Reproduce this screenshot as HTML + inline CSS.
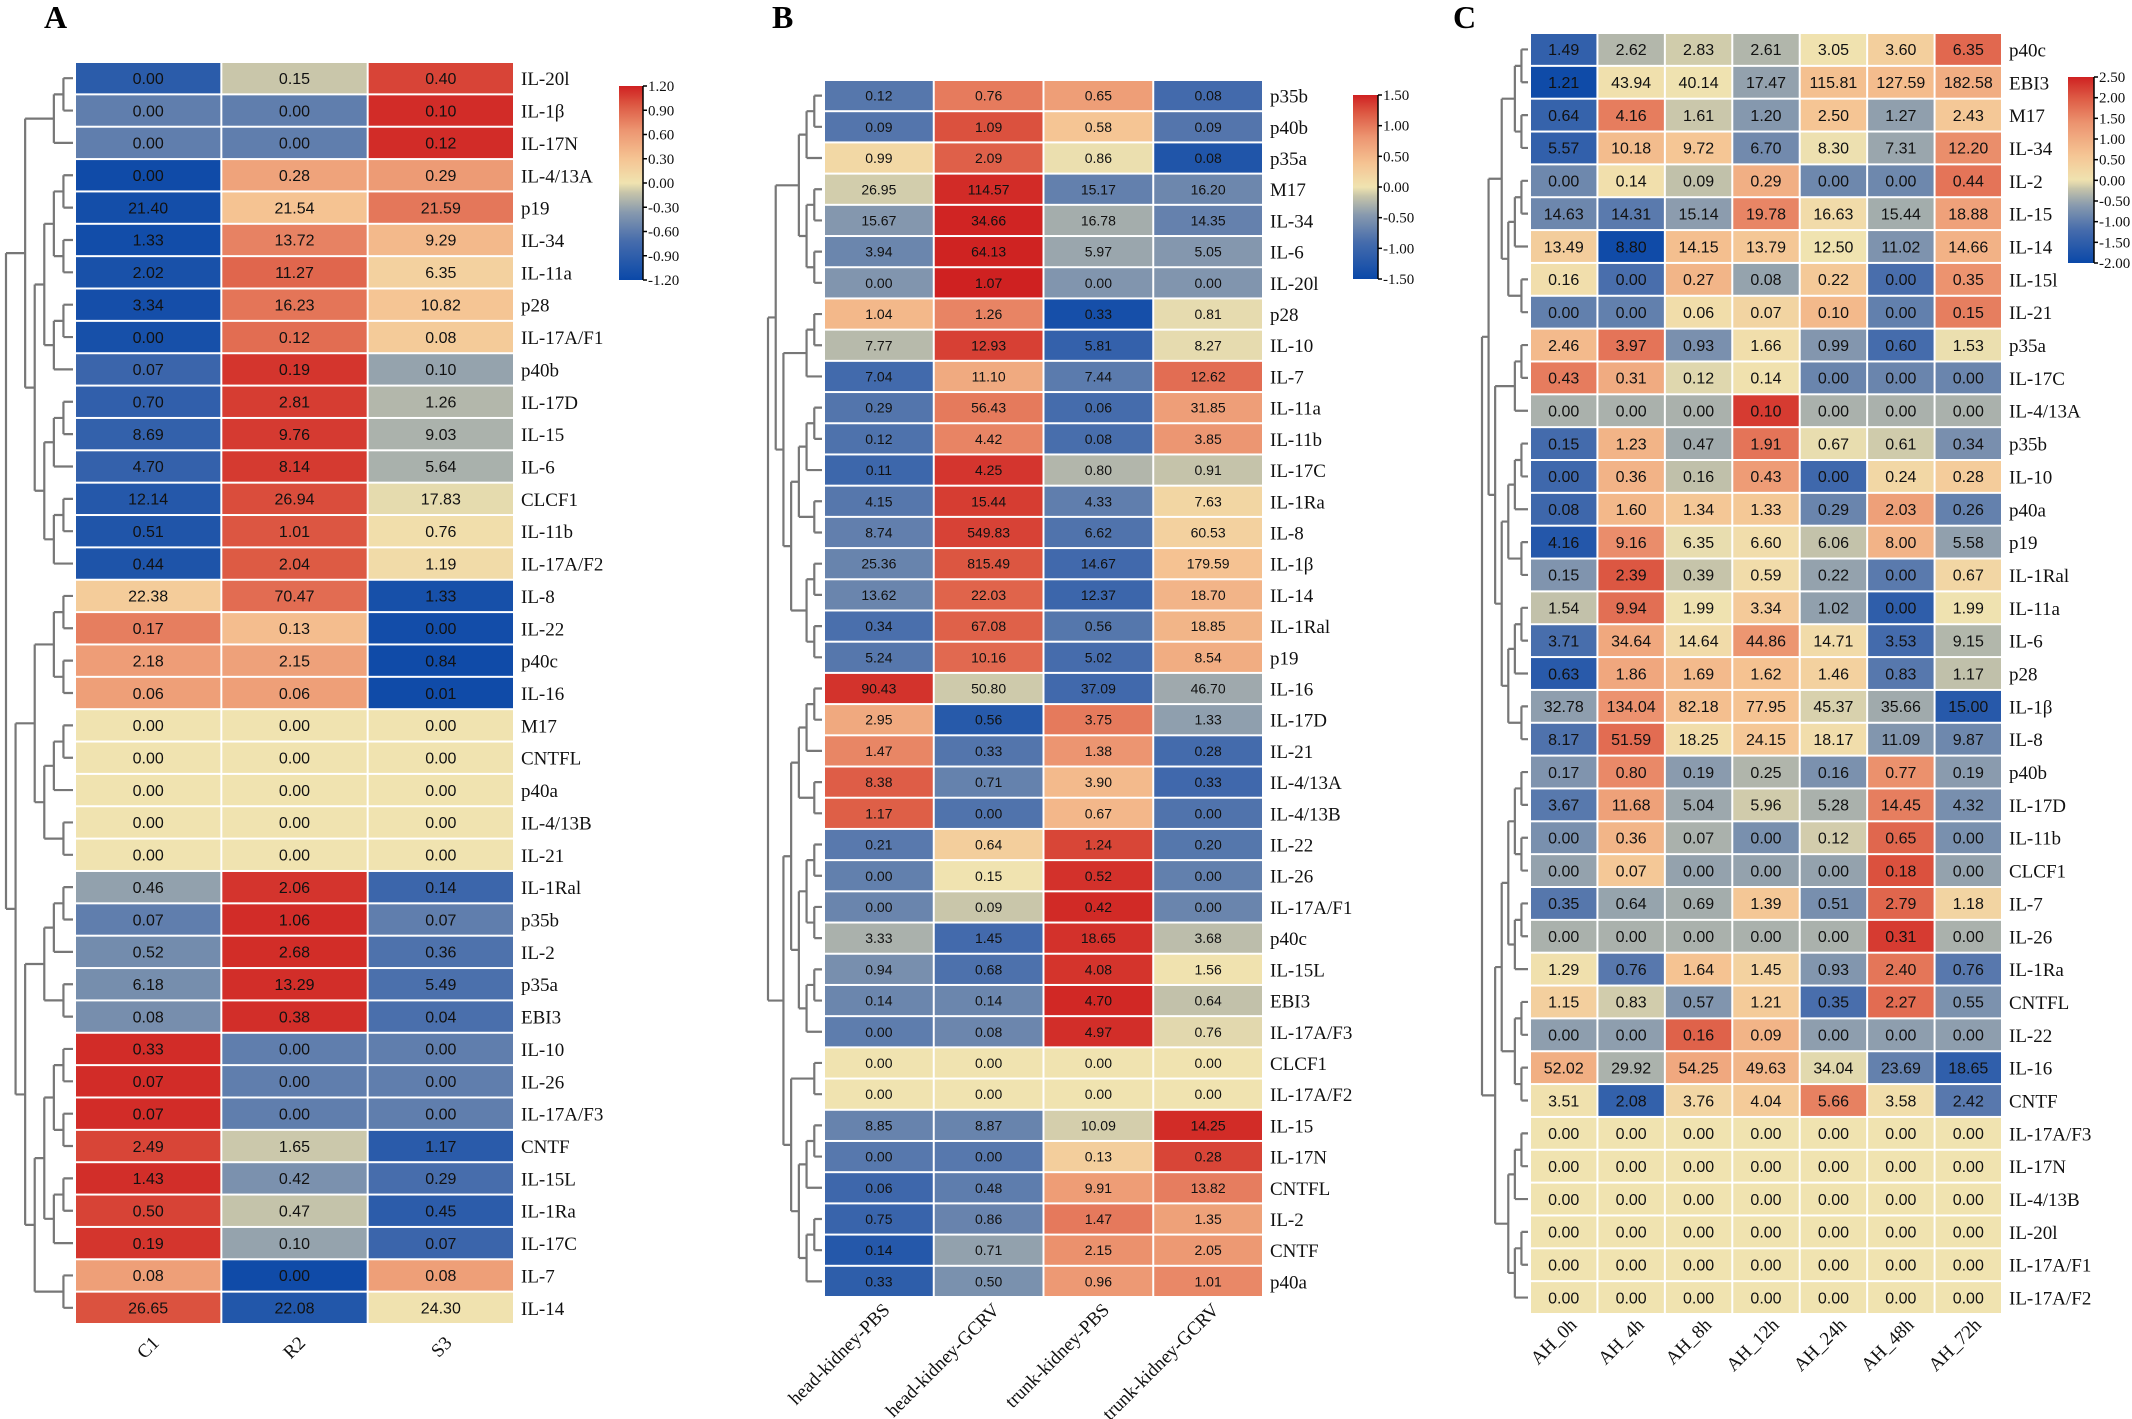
<!DOCTYPE html>
<html><head><meta charset="utf-8"><style>
html,body{margin:0;padding:0;background:#fff;}
svg{display:block;}
.rl{font-family:"Liberation Serif",serif;font-size:19px;fill:#111;}
.cv{font-family:"Liberation Sans",sans-serif;fill:#111;}
.pl{font-family:"Liberation Serif",serif;font-size:32px;font-weight:bold;fill:#000;}
.tk{font-family:"Liberation Serif",serif;font-size:15px;fill:#111;}
</style></head><body>
<svg id="fig" width="2132" height="1419" viewBox="0 0 2132 1419" xmlns="http://www.w3.org/2000/svg">
<text class="pl" x="44" y="28">A</text>
<text class="pl" x="772" y="28">B</text>
<text class="pl" x="1453" y="28">C</text>
</svg>
<script>
const rowsA = ["IL-20l","IL-1β","IL-17N","IL-4/13A","p19","IL-34","IL-11a","p28","IL-17A/F1","p40b","IL-17D","IL-15","IL-6","CLCF1","IL-11b","IL-17A/F2","IL-8","IL-22","p40c","IL-16","M17","CNTFL","p40a","IL-4/13B","IL-21","IL-1Ral","p35b","IL-2","p35a","EBI3","IL-10","IL-26","IL-17A/F3","CNTF","IL-15L","IL-1Ra","IL-17C","IL-7","IL-14"];
const colsA = ["C1","R2","S3"];
const valuesA = [
[0.00,0.15,0.40],[0.00,0.00,0.10],[0.00,0.00,0.12],[0.00,0.28,0.29],[21.40,21.54,21.59],[1.33,13.72,9.29],[2.02,11.27,6.35],[3.34,16.23,10.82],[0.00,0.12,0.08],[0.07,0.19,0.10],[0.70,2.81,1.26],[8.69,9.76,9.03],[4.70,8.14,5.64],[12.14,26.94,17.83],[0.51,1.01,0.76],[0.44,2.04,1.19],[22.38,70.47,1.33],[0.17,0.13,0.00],[2.18,2.15,0.84],[0.06,0.06,0.01],[0,0,0],[0,0,0],[0,0,0],[0,0,0],[0,0,0],[0.46,2.06,0.14],[0.07,1.06,0.07],[0.52,2.68,0.36],[6.18,13.29,5.49],[0.08,0.38,0.04],[0.33,0.00,0.00],[0.07,0.00,0.00],[0.07,0.00,0.00],[2.49,1.65,1.17],[1.43,0.42,0.29],[0.50,0.47,0.45],[0.19,0.10,0.07],[0.08,0.00,0.08],[26.65,22.08,24.30]];
const ticksA = ["1.20","0.90","0.60","0.30","0.00","-0.30","-0.60","-0.90","-1.20"];

const rowsB = ["p35b","p40b","p35a","M17","IL-34","IL-6","IL-20l","p28","IL-10","IL-7","IL-11a","IL-11b","IL-17C","IL-1Ra","IL-8","IL-1β","IL-14","IL-1Ral","p19","IL-16","IL-17D","IL-21","IL-4/13A","IL-4/13B","IL-22","IL-26","IL-17A/F1","p40c","IL-15L","EBI3","IL-17A/F3","CLCF1","IL-17A/F2","IL-15","IL-17N","CNTFL","IL-2","CNTF","p40a"];
const colsB = ["head-kidney-PBS","head-kidney-GCRV","trunk-kidney-PBS","trunk-kidney-GCRV"];
const valuesB = [
[0.12,0.76,0.65,0.08],[0.09,1.09,0.58,0.09],[0.99,2.09,0.86,0.08],[26.95,114.57,15.17,16.20],[15.67,34.66,16.78,14.35],[3.94,64.13,5.97,5.05],[0.00,1.07,0.00,0.00],[1.04,1.26,0.33,0.81],[7.77,12.93,5.81,8.27],[7.04,11.10,7.44,12.62],[0.29,56.43,0.06,31.85],[0.12,4.42,0.08,3.85],[0.11,4.25,0.80,0.91],[4.15,15.44,4.33,7.63],[8.74,549.83,6.62,60.53],[25.36,815.49,14.67,179.59],[13.62,22.03,12.37,18.70],[0.34,67.08,0.56,18.85],[5.24,10.16,5.02,8.54],[90.43,50.80,37.09,46.70],[2.95,0.56,3.75,1.33],[1.47,0.33,1.38,0.28],[8.38,0.71,3.90,0.33],[1.17,0.00,0.67,0.00],[0.21,0.64,1.24,0.20],[0.00,0.15,0.52,0.00],[0.00,0.09,0.42,0.00],[3.33,1.45,18.65,3.68],[0.94,0.68,4.08,1.56],[0.14,0.14,4.70,0.64],[0.00,0.08,4.97,0.76],[0,0,0,0],[0,0,0,0],[8.85,8.87,10.09,14.25],[0.00,0.00,0.13,0.28],[0.06,0.48,9.91,13.82],[0.75,0.86,1.47,1.35],[0.14,0.71,2.15,2.05],[0.33,0.50,0.96,1.01]];
const ticksB = ["1.50","1.00","0.50","0.00","-0.50","-1.00","-1.50"];

const rowsC = ["p40c","EBI3","M17","IL-34","IL-2","IL-15","IL-14","IL-15l","IL-21","p35a","IL-17C","IL-4/13A","p35b","IL-10","p40a","p19","IL-1Ral","IL-11a","IL-6","p28","IL-1β","IL-8","p40b","IL-17D","IL-11b","CLCF1","IL-7","IL-26","IL-1Ra","CNTFL","IL-22","IL-16","CNTF","IL-17A/F3","IL-17N","IL-4/13B","IL-20l","IL-17A/F1","IL-17A/F2"];
const colsC = ["AH_0h","AH_4h","AH_8h","AH_12h","AH_24h","AH_48h","AH_72h"];
const valuesC = [
[1.49,2.62,2.83,2.61,3.05,3.60,6.35],[1.21,43.94,40.14,17.47,115.81,127.59,182.58],[0.64,4.16,1.61,1.20,2.50,1.27,2.43],[5.57,10.18,9.72,6.70,8.30,7.31,12.20],[0.00,0.14,0.09,0.29,0.00,0.00,0.44],[14.63,14.31,15.14,19.78,16.63,15.44,18.88],[13.49,8.80,14.15,13.79,12.50,11.02,14.66],[0.16,0.00,0.27,0.08,0.22,0.00,0.35],[0.00,0.00,0.06,0.07,0.10,0.00,0.15],[2.46,3.97,0.93,1.66,0.99,0.60,1.53],[0.43,0.31,0.12,0.14,0.00,0.00,0.00],[0,0,0,0.10,0,0,0],[0.15,1.23,0.47,1.91,0.67,0.61,0.34],[0.00,0.36,0.16,0.43,0.00,0.24,0.28],[0.08,1.60,1.34,1.33,0.29,2.03,0.26],[4.16,9.16,6.35,6.60,6.06,8.00,5.58],[0.15,2.39,0.39,0.59,0.22,0.00,0.67],[1.54,9.94,1.99,3.34,1.02,0.00,1.99],[3.71,34.64,14.64,44.86,14.71,3.53,9.15],[0.63,1.86,1.69,1.62,1.46,0.83,1.17],[32.78,134.04,82.18,77.95,45.37,35.66,15.00],[8.17,51.59,18.25,24.15,18.17,11.09,9.87],[0.17,0.80,0.19,0.25,0.16,0.77,0.19],[3.67,11.68,5.04,5.96,5.28,14.45,4.32],[0.00,0.36,0.07,0.00,0.12,0.65,0.00],[0.00,0.07,0.00,0.00,0.00,0.18,0.00],[0.35,0.64,0.69,1.39,0.51,2.79,1.18],[0,0,0,0,0,0.31,0],[1.29,0.76,1.64,1.45,0.93,2.40,0.76],[1.15,0.83,0.57,1.21,0.35,2.27,0.55],[0.00,0.00,0.16,0.09,0.00,0.00,0.00],[52.02,29.92,54.25,49.63,34.04,23.69,18.65],[3.51,2.08,3.76,4.04,5.66,3.58,2.42],[0,0,0,0,0,0,0],[0,0,0,0,0,0,0],[0,0,0,0,0,0,0],[0,0,0,0,0,0,0],[0,0,0,0,0,0,0],[0,0,0,0,0,0,0]];
const ticksC = ["2.50","2.00","1.50","1.00","0.50","0.00","-0.50","-1.00","-1.50","-2.00"];

const treeA = [["0-2","3-15"],[["16-19","20-24"],["25-29",["30-36","37-38"]]]];
const treeB = [[["0-2","3-6"],["7-9","10-18"]],[["19-23","24-30"],["31-32","33-38"]]];
const treeC = [[["0-3","4-8"],["9-11","12-21"]],[["22-28","29-32"],"33-38"]];

const NS = "http://www.w3.org/2000/svg";
const svg = document.getElementById("fig");
function mk(tag, attrs, parent){const e=document.createElementNS(NS,tag);for(const k in attrs)e.setAttribute(k,attrs[k]);(parent||svg).appendChild(e);return e;}

const stops=[[-1,[10,72,168]],[-0.6,[70,108,172]],[-0.3,[136,154,174]],[-0.1,[198,196,170]],[0,[240,227,176]],[0.25,[245,196,147]],[0.55,[236,148,112]],[0.8,[221,90,68]],[1,[207,33,33]]];
function ramp(t){t=Math.max(-1,Math.min(1,t));for(let i=1;i<stops.length;i++){if(t<=stops[i][0]){const a=stops[i-1],b=stops[i];const f=(t-a[0])/(b[0]-a[0]);const c=a[1].map((v,j)=>Math.round(v+(b[1][j]-v)*f));return "rgb("+c.join(",")+")";}}return "rgb(207,33,33)";}
function colour(v,lo,hi){return ramp(v<0?v/(-lo):v/hi);}
function zrow(r){const l=r.map(x=>Math.log2(x+1));const m=l.reduce((a,b)=>a+b,0)/l.length;const sd=Math.sqrt(l.reduce((a,b)=>a+(b-m)*(b-m),0)/(l.length-1));return l.map(x=>sd>0?(x-m)/sd:0);}

function buildTree(spec){
  if(typeof spec==="string"){const p=spec.split("-").map(Number);return rangeTree(p[0],p[1]);}
  return {kids:[buildTree(spec[0]),buildTree(spec[1])]};
}
function rangeTree(a,b){if(a===b)return {leaf:a};const m=Math.floor((a+b)/2);return {kids:[rangeTree(a,m),rangeTree(m+1,b)]};}
function heights(n){if(n.leaf!==undefined){n.h=0;return 0;}n.h=Math.max(heights(n.kids[0]),heights(n.kids[1]))+1;return n.h;}

function panel(cfg){
  const {rows,cols,values,ticks,lo,hi,x0,x1,y0,y1,key}=cfg;
  const g=mk("g",{});
  
  
  const cw=(x1-x0)/cols.length, rh=(y1-y0)/rows.length;
  const xs=j=>x0+j*cw, ys=i=>y0+i*rh;
  values.forEach((r,i)=>{
    const z=zrow(r);
    r.forEach((v,j)=>{
      const rect=mk("rect",{x:xs(j)+1,y:ys(i)+1,width:cw-2,height:rh-2,fill:colour(z[j],lo,hi)},g);
      
      
      const t=mk("text",{x:xs(j)+cw/2,y:ys(i)+rh/2+cfg.fs*0.36,"text-anchor":"middle",class:"cv","font-size":cfg.fs},g);
      t.textContent=v.toFixed(2);
      
      
    });
    const lb=mk("text",{x:x1+7,y:ys(i)+rh/2+7,class:"rl"},g);
    lb.textContent=rows[i];
    
    
  });
  cols.forEach((c,j)=>{
    const ax=xs(j)+cw/2+cfg.cdx, ay=y1+cfg.cdy;
    const t=mk("text",{x:ax,y:ay,"text-anchor":"end",class:"rl",transform:"rotate(-45 "+ax+" "+ay+")"},g);
    t.textContent=c;
    
    
  });
  const tree=buildTree(cfg.tree);const H=heights(tree);
  const dx=h=>x0-2-(x0-2-cfg.dl)*h/H;
  let d="";
  function draw(n){
    if(n.leaf!==undefined){n.y=ys(n.leaf)+rh/2;return;}
    draw(n.kids[0]);draw(n.kids[1]);
    const x=dx(n.h);
    n.kids.forEach(k=>{d+="M"+dx(k.h)+" "+k.y+"H"+x;});
    d+="M"+x+" "+n.kids[0].y+"V"+n.kids[1].y;
    n.y=(n.kids[0].y+n.kids[1].y)/2;
  }
  draw(tree);
  const p=mk("path",{d:d,fill:"none",stroke:"#777","stroke-width":2.2},g);
  
  
  const [bx,by,bw,bh]=cfg.bar;
  const gid="grad"+key;
  const defs=mk("defs",{},g);
  const lg=mk("linearGradient",{id:gid,x1:0,y1:1,x2:0,y2:0},defs);
  for(let k=0;k<=40;k++){const v=lo+(hi-lo)*k/40;mk("stop",{offset:(k/40),"stop-color":colour(v,lo,hi)},lg);}
  const cb=mk("rect",{x:bx,y:by,width:bw,height:bh,fill:"url(#"+gid+")"},g);
  
  
  mk("line",{x1:bx+bw,y1:by,x2:bx+bw,y2:by+bh,stroke:"#000","stroke-width":1.5},g);
  ticks.forEach((tk,k)=>{
    const ty=by+bh*k/(ticks.length-1);
    mk("line",{x1:bx+bw,y1:ty,x2:bx+bw+4,y2:ty,stroke:"#000","stroke-width":1.5},g);
    const t=mk("text",{x:bx+bw+5,y:ty+5,class:"tk"},g);
    t.textContent=tk;
    
    
  });
}
panel({key:"a",rows:rowsA,cols:colsA,values:valuesA,ticks:ticksA,lo:-1.2,hi:1.2,x0:75,x1:514,y0:62,y1:1324,fs:16,tree:treeA,dl:6,bar:[619,86,24,194],cdx:12,cdy:20});
panel({key:"b",rows:rowsB,cols:colsB,values:valuesB,ticks:ticksB,lo:-1.5,hi:1.5,x0:824,x1:1263,y0:80,y1:1297,fs:14,tree:treeB,dl:768,bar:[1353,95,25,184],cdx:12,cdy:14});
panel({key:"c",rows:rowsC,cols:colsC,values:valuesC,ticks:ticksC,lo:-2,hi:2.5,x0:1530,x1:2002,y0:33,y1:1314,fs:16,tree:treeC,dl:1482,bar:[2068,77,26,186],cdx:14,cdy:12});
</script>
</body></html>
